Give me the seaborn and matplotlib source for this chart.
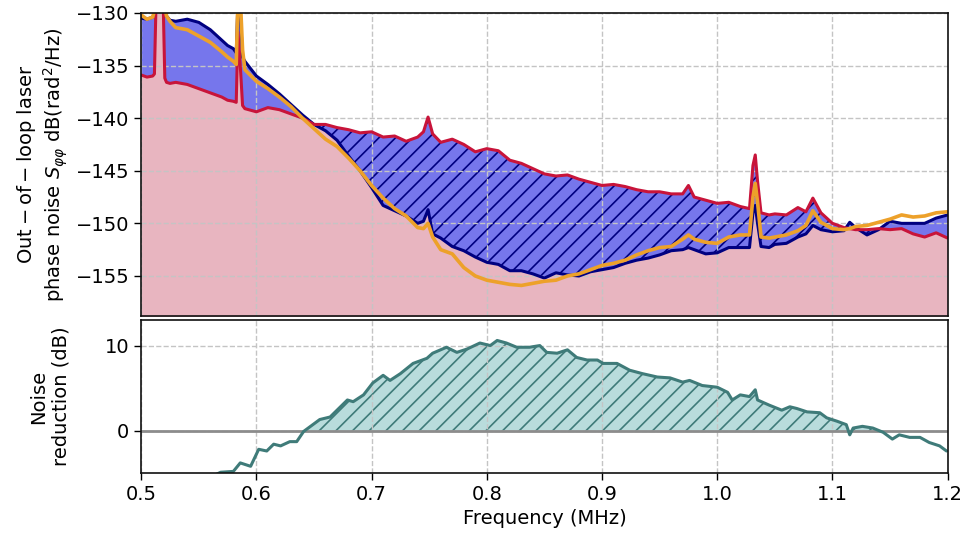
import numpy as np
import pandas as pd
import matplotlib
matplotlib.use("Agg")
import matplotlib.pyplot as plt
import seaborn as sns

# ---- top panel: phase noise traces (dB rad^2/Hz) ----
freq = [0.500, 0.505, 0.510, 0.5115, 0.513, 0.519, 0.5205, 0.522, 0.525, 0.53,
        0.54, 0.55, 0.56, 0.57, 0.575, 0.58, 0.5825, 0.584, 0.586, 0.588,
        0.59, 0.60, 0.61, 0.62, 0.63, 0.64, 0.65, 0.66, 0.67, 0.68,
        0.69, 0.70, 0.71, 0.72, 0.73, 0.74, 0.745, 0.749, 0.753, 0.76,
        0.77, 0.78, 0.79, 0.80, 0.81, 0.82, 0.83, 0.84, 0.85, 0.86,
        0.87, 0.88, 0.89, 0.90, 0.91, 0.92, 0.93, 0.94, 0.95, 0.96,
        0.97, 0.975, 0.98, 0.99, 1.00, 1.01, 1.02, 1.028, 1.031, 1.033,
        1.035, 1.038, 1.045, 1.05, 1.06, 1.07, 1.077, 1.083, 1.09, 1.10,
        1.11, 1.115, 1.12, 1.13, 1.14, 1.15, 1.16, 1.17, 1.18, 1.19, 1.20]

free_running = [-130.5, -130.6, -130.4, -130.0, -128.5, -128.5, -129.0, -130.3, -130.7, -130.8,
                -130.6, -130.9, -131.6, -132.6, -133.1, -133.4, -133.8, -129.0, -130.0, -134.2,
                -134.6, -136.0, -136.8, -137.7, -138.7, -139.7, -140.6, -141.2, -142.1, -143.6,
                -145.0, -146.6, -148.3, -148.8, -149.3, -150.0, -149.8, -148.7, -151.0, -151.4,
                -152.2, -152.6, -153.2, -153.7, -153.9, -154.5, -154.5, -154.8, -155.2, -154.7,
                -154.9, -155.0, -154.6, -154.4, -154.2, -153.8, -153.5, -153.3, -153.0, -152.6,
                -152.5, -152.3, -152.5, -152.9, -152.8, -152.3, -152.3, -152.3, -149.0, -148.3,
                -150.0, -152.2, -152.3, -152.0, -151.9, -151.3, -151.0, -150.2, -150.6, -150.8,
                -150.7, -149.9, -150.4, -151.1, -150.6, -149.8, -150.0, -150.0, -150.0, -149.5, -149.2]

reference = [-135.9, -136.1, -136.0, -135.8, -128.5, -128.5, -136.2, -136.6, -136.7, -136.6,
             -136.8, -137.2, -137.6, -138.0, -138.3, -138.4, -138.5, -131.8, -135.0, -138.8,
             -139.1, -139.4, -139.0, -139.2, -139.6, -140.0, -140.6, -140.6, -140.9, -141.1,
             -141.4, -141.3, -141.8, -141.7, -142.2, -141.8, -141.3, -139.9, -141.5, -142.3,
             -142.0, -142.5, -143.2, -142.9, -143.1, -144.0, -144.3, -144.8, -145.3, -145.5,
             -145.4, -145.8, -146.1, -146.4, -146.3, -146.5, -146.8, -147.0, -147.0, -147.2,
             -147.2, -146.4, -147.5, -147.8, -148.1, -148.0, -148.4, -148.6, -144.5, -143.5,
             -146.0, -149.0, -149.2, -149.1, -149.2, -148.5, -148.9, -147.6, -149.0, -150.0,
             -150.4, -150.5, -150.6, -150.6, -150.5, -150.6, -150.5, -151.0, -151.3, -150.9, -151.4]

feedback = [-130.2, -130.6, -130.4, -129.8, -128.5, -128.5, -129.5, -130.3, -130.8, -131.4,
            -131.6, -132.2, -132.8, -133.7, -134.2, -134.6, -134.9, -128.5, -128.5, -133.5,
            -135.4, -136.5, -137.2, -138.0, -138.9, -140.0, -141.0, -142.0, -142.7, -143.8,
            -145.0, -146.4, -147.6, -148.6, -149.3, -150.4, -150.5, -150.0, -151.3, -152.5,
            -152.9, -154.2, -155.0, -155.4, -155.6, -155.8, -155.9, -155.7, -155.5, -155.4,
            -155.0, -154.8, -154.4, -154.0, -153.8, -153.5, -153.0, -152.6, -152.3, -152.2,
            -151.5, -151.1, -151.5, -151.8, -151.9, -151.3, -151.1, -151.1, -147.5, -146.2,
            -148.0, -151.3, -151.4, -151.3, -151.1, -150.7, -150.2, -148.8, -149.9, -150.5,
            -150.6, -150.5, -150.3, -150.2, -149.9, -149.6, -149.2, -149.4, -149.3, -149.0, -148.9]

# ---- bottom panel: noise reduction (dB) ----
freq_red = [0.500, 0.530, 0.555, 0.569, 0.580, 0.586, 0.595, 0.602, 0.609, 0.615,
            0.621, 0.629, 0.635, 0.641, 0.647, 0.655, 0.664, 0.670, 0.679, 0.684,
            0.693, 0.701, 0.710, 0.716, 0.725, 0.736, 0.748, 0.753, 0.765, 0.774,
            0.783, 0.794, 0.803, 0.809, 0.817, 0.826, 0.837, 0.846, 0.852, 0.861,
            0.870, 0.878, 0.887, 0.896, 0.901, 0.913, 0.924, 0.935, 0.948, 0.959,
            0.970, 0.976, 0.987, 1.000, 1.009, 1.013, 1.020, 1.028, 1.033, 1.035,
            1.045, 1.056, 1.063, 1.069, 1.078, 1.089, 1.095, 1.104, 1.112, 1.115,
            1.118, 1.126, 1.135, 1.144, 1.152, 1.158, 1.167, 1.176, 1.184, 1.193, 1.199]
reduction = [-5.6, -6.2, -5.8, -4.9, -4.8, -3.8, -4.2, -2.2, -2.4, -1.6,
             -1.8, -1.3, -1.3, -0.1, 0.5, 1.3, 1.6, 2.4, 3.6, 3.4,
             4.2, 5.6, 6.5, 5.9, 6.7, 7.9, 8.5, 9.1, 9.8, 9.2,
             9.6, 10.3, 10.0, 10.6, 10.3, 9.8, 9.8, 10.0, 9.2, 9.1,
             9.5, 8.6, 8.3, 8.3, 7.9, 7.9, 7.1, 6.7, 6.3, 6.2,
             5.7, 5.9, 5.3, 5.1, 4.5, 3.6, 4.2, 4.0, 4.8, 3.6,
             3.0, 2.4, 2.8, 2.6, 2.2, 2.1, 1.5, 1.1, 0.7, -0.5,
             0.3, 0.5, 0.3, -0.2, -1.0, -0.5, -0.8, -0.8, -1.4, -1.8, -2.4]

df = pd.DataFrame({"freq": freq, "free": free_running, "ref": reference, "fb": feedback})
dr = pd.DataFrame({"freq": freq_red, "reduction": reduction})

sns.set_style("ticks")
plt.rcParams["font.family"] = ["DejaVu Sans"]
plt.rcParams["font.size"] = 14
plt.rcParams["hatch.linewidth"] = 1.2
plt.rcParams["text.color"] = "black"
plt.rcParams["axes.labelcolor"] = "black"
plt.rcParams["xtick.color"] = "black"
plt.rcParams["ytick.color"] = "black"

fig = plt.figure(figsize=(9.67, 5.37), dpi=100)
gs = fig.add_gridspec(2, 1, height_ratios=[303, 153], hspace=0.018,
                      left=0.146, right=0.980, top=0.976, bottom=0.119)
ax1 = fig.add_subplot(gs[0])
ax2 = fig.add_subplot(gs[1], sharex=ax1)

navy_c = "#000080"
red_c = "#c8143a"
orange_c = "#eda12a"
blue_fill = "#7676ec"
pink_fill = "#e8b5c0"
teal_c = "#3f7b79"
teal_fill = "#b9dcdc"

x = df["freq"].values
nv = df["free"].values
rd = df["ref"].values

# pink under the reference trace, blue between the two traces,
# hatched where the reference sits above the free-running one
ax1.fill_between(x, rd, -165, color=pink_fill, lw=0)
ax1.fill_between(x, nv, rd, color=blue_fill, lw=0)
ax1.fill_between(x, nv, rd, where=rd >= nv, interpolate=True,
                 facecolor="none", edgecolor=navy_c, hatch="//", lw=0)

sns.lineplot(data=df, x="freq", y="free", ax=ax1, color=navy_c, lw=2.2, estimator=None, sort=False)
sns.lineplot(data=df, x="freq", y="ref", ax=ax1, color=red_c, lw=2.2, estimator=None, sort=False)
sns.lineplot(data=df, x="freq", y="fb", ax=ax1, color=orange_c, lw=2.6, estimator=None, sort=False)

ax1.set_xlim(0.5, 1.2)
ax1.set_ylim(-158.8, -130)
ax1.set_yticks([-155, -150, -145, -140, -135, -130])
ax1.tick_params(axis="x", labelbottom=False, length=0)
ax1.set_xlabel("")
ax1.set_ylabel("$\\mathrm{Out-of-loop}$ laser\nphase noise $S_{\\varphi\\varphi}$ dB(rad$^2$/Hz)", fontsize=14)

xr = dr["freq"].values
yr = dr["reduction"].values
ax2.fill_between(xr, yr, 0, where=yr > 0, interpolate=True,
                 facecolor=teal_fill, edgecolor=teal_c, hatch="//", lw=0)
ax2.axhline(0, color="#8c8c8c", lw=2, zorder=1.8)
sns.lineplot(data=dr, x="freq", y="reduction", ax=ax2, color=teal_c, lw=2.2, estimator=None, sort=False)
ax2.set_ylim(-5, 13)
ax2.set_yticks([0, 10])
ax2.set_xticks([0.5, 0.6, 0.7, 0.8, 0.9, 1.0, 1.1, 1.2])
ax2.set_xticklabels(["0.5", "0.6", "0.7", "0.8", "0.9", "1.0", "1.1", "1.2"])
ax2.set_xlabel("Frequency (MHz)", fontsize=14)
ax2.set_ylabel("Noise\nreduction (dB)", fontsize=14)

for ax in (ax1, ax2):
    ax.grid(True, ls="--", color="#c4c4c4", lw=1)
    ax.set_axisbelow("line")
    ax.tick_params(labelsize=14, width=1, length=5)
    for sp in ax.spines.values():
        sp.set_color("#111111")
        sp.set_linewidth(1.2)
ax1.tick_params(axis="x", length=0)

fig.align_ylabels([ax1, ax2])
fig.savefig("out.png", dpi=100)
